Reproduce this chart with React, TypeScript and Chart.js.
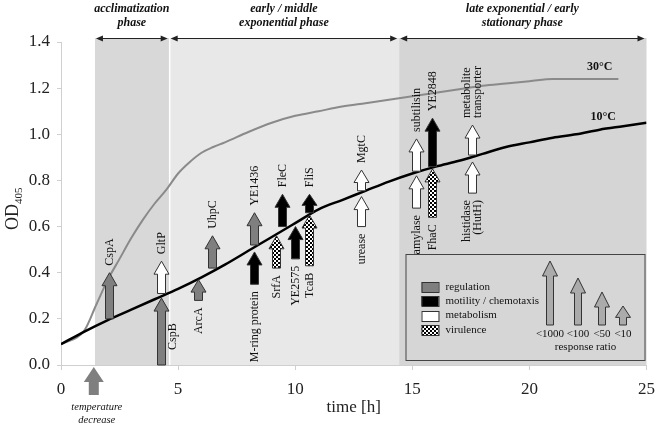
import React, { useEffect, useRef } from 'react';
import { Chart, registerables } from 'chart.js';

Chart.register(...registerables);

const SERIF = '"Liberation Serif", "Times New Roman", serif';

// ---- data ----
const time10 = [0, 1, 2, 3, 4, 5, 6, 7, 8, 9, 10, 11, 12, 13, 14, 15, 16, 17, 18, 19, 20, 21, 22, 23, 24, 25];
const od10 = [0.09, 0.145, 0.195, 0.24, 0.285, 0.33, 0.38, 0.435, 0.495, 0.555, 0.615, 0.675, 0.715, 0.755, 0.795, 0.83, 0.86, 0.885, 0.915, 0.945, 0.965, 0.985, 1.0, 1.02, 1.035, 1.05];

const time30 = [0, 1, 1.5, 2, 2.5, 3, 3.5, 4, 4.5, 5, 5.5, 6, 6.5, 7, 8, 9, 10, 11, 12, 13, 14, 15, 16, 17, 18, 19, 20, 21, 22, 23, 23.8];
const od30 = [0.09, 0.15, 0.26, 0.37, 0.46, 0.55, 0.63, 0.7, 0.76, 0.83, 0.88, 0.92, 0.945, 0.965, 1.01, 1.05, 1.08, 1.1, 1.12, 1.135, 1.15, 1.165, 1.18, 1.195, 1.21, 1.22, 1.23, 1.24, 1.24, 1.24, 1.24];

const seriesNames = ['10°C', '30°C'];

const phaseNames = [
  ['acclimatization', 'phase'],
  ['early / middle', 'exponential phase'],
  ['late exponential / early', 'stationary phase'],
];
const phaseStart = [1.45, 4.64, 14.44];
const phaseEnd = [4.64, 14.44, 25];

const arrowLabels = ['CspA', 'GltP', 'CspB', 'ArcA', 'UhpC', 'YE1436', 'M-ring protein', 'FleC', 'SrfA', 'YE2575', 'FliS', 'TcaB', 'MgtC', 'urease', 'subtilisin', 'amylase', 'YE2848', 'FhaC', 'metabolite\ntransporter', 'histidase\n(HutH)'];
const arrowTimes = [2.04, 4.26, 4.26, 5.83, 6.43, 8.22, 8.22, 9.45, 9.2, 10.0, 10.6, 10.6, 12.82, 12.82, 15.16, 15.16, 15.84, 15.84, 17.55, 17.55];
const arrowFrom = [0.2, 0.31, 0.0, 0.28, 0.42, 0.52, 0.35, 0.6, 0.42, 0.46, 0.66, 0.43, 0.755, 0.6, 0.84, 0.68, 0.86, 0.64, 0.91, 0.745];
const arrowTo = [0.4, 0.45, 0.29, 0.37, 0.56, 0.66, 0.49, 0.74, 0.56, 0.6, 0.74, 0.65, 0.845, 0.73, 0.98, 0.82, 1.07, 0.85, 1.04, 0.88];
const arrowCategory = ['reg', 'met', 'reg', 'reg', 'reg', 'reg', 'mot', 'mot', 'vir', 'mot', 'mot', 'vir', 'met', 'met', 'met', 'met', 'mot', 'vir', 'met', 'met'];
const arrowLabelSide = ['above', 'above', 'right', 'below', 'above', 'above', 'below', 'above', 'below', 'below', 'above', 'below', 'above', 'below', 'above', 'below', 'above', 'below', 'above', 'below'];

const legendCategories = ['reg', 'mot', 'met', 'vir'];
const legendNames = ['regulation', 'motility / chemotaxis', 'metabolism', 'virulence'];
const ratioLabels = ['<1000', '<100', '<50', '<10'];
const ratioTitle = 'response ratio';
const temperatureDropTime = 1.4;
const temperatureDropText = ['temperature', 'decrease'];

const xTitle = 'time [h]';
const yTitleMain = 'OD';
const yTitleSub = '405';

// ---- styles ----
const phaseShade = ['#d8d8d8', '#e8e8e8', '#d5d5d5'];
const GRAY = '#7f7f7f';
const OUTLINE = '#333';
const TEXT = '#111';

function arrowPath(ctx: CanvasRenderingContext2D, x: number, yb: number, yt: number, shaftW: number, headW: number, headLen: number) {
  const hl = Math.min(headLen, (yb - yt) * 0.6);
  ctx.beginPath();
  ctx.moveTo(x - shaftW / 2, yb);
  ctx.lineTo(x - shaftW / 2, yt + hl);
  ctx.lineTo(x - headW / 2, yt + hl);
  ctx.lineTo(x, yt);
  ctx.lineTo(x + headW / 2, yt + hl);
  ctx.lineTo(x + shaftW / 2, yt + hl);
  ctx.lineTo(x + shaftW / 2, yb);
  ctx.closePath();
}

export default function App() {
  const ref = useRef<HTMLCanvasElement>(null);

  useEffect(() => {
    document.body.style.margin = '0';
    const canvas = ref.current!;
    const c0 = canvas.getContext('2d')!;
    const pc = document.createElement('canvas');
    pc.width = 4;
    pc.height = 4;
    const pctx = pc.getContext('2d')!;
    pctx.fillStyle = '#fff';
    pctx.fillRect(0, 0, 4, 4);
    pctx.fillStyle = '#000';
    pctx.fillRect(0, 0, 2, 2);
    pctx.fillRect(2, 2, 2, 2);
    const checker = c0.createPattern(pc, 'repeat');

    const fillFor = (cat: string): any => {
      if (cat === 'reg') return GRAY;
      if (cat === 'mot') return '#000';
      if (cat === 'met') return '#fff';
      return checker;
    };

    const decor = {
      id: 'decor',
      beforeDraw(chart: any) {
        const ctx: CanvasRenderingContext2D = chart.ctx;
        const ca = chart.chartArea;
        const xs = chart.scales.x;
        ctx.save();
        for (let i = 0; i < phaseStart.length; i++) {
          const x1 = xs.getPixelForValue(phaseStart[i]);
          const x2 = xs.getPixelForValue(phaseEnd[i]);
          ctx.fillStyle = phaseShade[i];
          ctx.fillRect(x1, ca.top - 4, x2 - x1, ca.bottom - ca.top + 4);
        }
        // white separator between acclimatization and early phase
        const xb = xs.getPixelForValue(phaseEnd[0]);
        ctx.fillStyle = '#fff';
        ctx.fillRect(xb - 0.75, ca.top - 4, 1.5, ca.bottom - ca.top + 4);
        ctx.restore();
      },
      afterDatasetsDraw(chart: any) {
        const ctx: CanvasRenderingContext2D = chart.ctx;
        const ca = chart.chartArea;
        const xs = chart.scales.x;
        const ys = chart.scales.y;
        ctx.save();

        // gene arrows
        for (let i = 0; i < arrowLabels.length; i++) {
          const x = Math.round(xs.getPixelForValue(arrowTimes[i])) + 0.5;
          const yb = ys.getPixelForValue(arrowFrom[i]);
          const yt = ys.getPixelForValue(arrowTo[i]);
          arrowPath(ctx, x, yb, yt, 8, 15, 13);
          ctx.fillStyle = fillFor(arrowCategory[i]);
          ctx.fill();
          ctx.lineWidth = 1;
          ctx.strokeStyle = OUTLINE;
          ctx.stroke();

          const lines = arrowLabels[i].split('\n');
          ctx.font = `12px ${SERIF}`;
          ctx.fillStyle = TEXT;
          ctx.textBaseline = 'middle';
          ctx.save();
          const side = arrowLabelSide[i];
          if (side === 'above') {
            ctx.translate(x, yt - 7);
            ctx.rotate(-Math.PI / 2);
            ctx.textAlign = 'left';
          } else if (side === 'below') {
            ctx.translate(x, yb + 7);
            ctx.rotate(-Math.PI / 2);
            ctx.textAlign = 'right';
          } else {
            ctx.translate(x + 11, yb - 15);
            ctx.rotate(-Math.PI / 2);
            ctx.textAlign = 'left';
          }
          const n = lines.length;
          lines.forEach((ln, j) => {
            ctx.fillText(ln, 0, (j - (n - 1) / 2) * 11);
          });
          ctx.restore();
        }

        // series labels
        ctx.font = `bold 12px ${SERIF}`;
        ctx.fillStyle = TEXT;
        ctx.textAlign = 'center';
        ctx.textBaseline = 'middle';
        ctx.fillText(seriesNames[1], xs.getPixelForValue(23.0), ys.getPixelForValue(1.24) - 12);
        ctx.fillText(seriesNames[0], xs.getPixelForValue(23.15), ys.getPixelForValue(1.025) - 12);

        // phase arrows and labels
        for (let i = 0; i < phaseStart.length; i++) {
          const x1 = xs.getPixelForValue(phaseStart[i]) + 1;
          const x2 = xs.getPixelForValue(phaseEnd[i]) - 2;
          const y = ca.top - 3.5;
          ctx.strokeStyle = '#222';
          ctx.fillStyle = '#222';
          ctx.lineWidth = 1;
          ctx.beginPath();
          ctx.moveTo(x1 + 4, y);
          ctx.lineTo(x2 - 4, y);
          ctx.stroke();
          ctx.beginPath();
          ctx.moveTo(x1, y);
          ctx.lineTo(x1 + 7, y - 3);
          ctx.lineTo(x1 + 7, y + 3);
          ctx.closePath();
          ctx.fill();
          ctx.beginPath();
          ctx.moveTo(x2, y);
          ctx.lineTo(x2 - 7, y - 3);
          ctx.lineTo(x2 - 7, y + 3);
          ctx.closePath();
          ctx.fill();
          const cx = (x1 + x2) / 2;
          ctx.font = `italic bold 12px ${SERIF}`;
          ctx.fillStyle = TEXT;
          ctx.textAlign = 'center';
          ctx.textBaseline = 'middle';
          ctx.fillText(phaseNames[i][0], cx, 9);
          ctx.fillText(phaseNames[i][1], cx, 23);
        }

        // legend box
        const bl = ca.right - 241;
        const bt = ca.bottom - 111;
        const bw = 239;
        const bh = 106;
        ctx.fillStyle = '#d6d6d6';
        ctx.fillRect(bl, bt, bw, bh);
        ctx.strokeStyle = '#444';
        ctx.lineWidth = 1;
        ctx.strokeRect(bl + 0.5, bt + 0.5, bw, bh);
        ctx.font = `11px ${SERIF}`;
        ctx.textAlign = 'left';
        ctx.textBaseline = 'middle';
        for (let i = 0; i < legendCategories.length; i++) {
          const cy = bt + 33 + i * 14.3;
          ctx.fillStyle = fillFor(legendCategories[i]);
          ctx.fillRect(bl + 16, Math.round(cy - 5), 17, 10);
          ctx.strokeStyle = OUTLINE;
          ctx.strokeRect(bl + 16.5, Math.round(cy - 5) + 0.5, 17, 10);
          ctx.fillStyle = TEXT;
          ctx.fillText(legendNames[i], bl + 40, cy);
        }
        const rx = [144, 172, 196, 217];
        const rh = [64, 47, 33, 19];
        const base = bt + 71;
        for (let i = 0; i < ratioLabels.length; i++) {
          const x = bl + rx[i] + 0.5;
          arrowPath(ctx, x, base, base - rh[i], 7, 15, 15);
          ctx.fillStyle = '#ababab';
          ctx.fill();
          ctx.strokeStyle = OUTLINE;
          ctx.stroke();
          ctx.fillStyle = TEXT;
          ctx.textAlign = 'center';
          ctx.fillText(ratioLabels[i], x, bt + 80);
        }
        ctx.fillText(ratioTitle, bl + 180, bt + 93);

        // temperature decrease
        const tx = xs.getPixelForValue(temperatureDropTime);
        arrowPath(ctx, tx, ca.bottom + 30, ca.bottom + 2, 10, 20, 15);
        ctx.fillStyle = GRAY;
        ctx.fill();
        ctx.font = `italic 10.5px ${SERIF}`;
        ctx.fillStyle = TEXT;
        ctx.textAlign = 'center';
        ctx.fillText(temperatureDropText[0], tx + 3, ca.bottom + 42);
        ctx.fillText(temperatureDropText[1], tx + 3, ca.bottom + 55);

        // axis titles
        ctx.font = `17px ${SERIF}`;
        ctx.fillStyle = '#222';
        ctx.textAlign = 'center';
        ctx.fillText(xTitle, (ca.left + ca.right) / 2, ca.bottom + 43);

        ctx.save();
        ctx.translate(12, 230);
        ctx.rotate(-Math.PI / 2);
        ctx.textAlign = 'left';
        ctx.textBaseline = 'alphabetic';
        ctx.font = `18px ${SERIF}`;
        ctx.fillText(yTitleMain, 0, 6);
        const w = ctx.measureText(yTitleMain).width;
        ctx.font = `11px ${SERIF}`;
        ctx.fillText(yTitleSub, w, 10);
        ctx.restore();

        ctx.restore();
      },
    };

    const chart = new Chart(canvas, {
      type: 'line',
      data: {
        datasets: [
          {
            label: seriesNames[0],
            data: time10.map((t, i) => ({ x: t, y: od10[i] })),
            borderColor: '#000',
            borderWidth: 2.5,
            pointRadius: 0,
            cubicInterpolationMode: 'monotone',
            fill: false,
          },
          {
            label: seriesNames[1],
            data: time30.map((t, i) => ({ x: t, y: od30[i] })),
            borderColor: '#8a8a8a',
            borderWidth: 2,
            pointRadius: 0,
            cubicInterpolationMode: 'monotone',
            fill: false,
          },
        ],
      },
      options: {
        animation: false,
        responsive: false,
        devicePixelRatio: 1,
        layout: { padding: { top: 42, right: 16, left: 0, bottom: 0 } },
        plugins: { legend: { display: false }, tooltip: { enabled: false } },
        events: [],
        scales: {
          x: {
            type: 'linear',
            min: 0,
            max: 25,
            afterFit: (s: any) => { s.height = 60; },
            ticks: { stepSize: 5, color: '#222', font: { family: SERIF, size: 17 }, padding: 9, maxRotation: 0 },
            grid: { drawOnChartArea: false, drawTicks: true, tickLength: 5, color: '#cfcfcf' },
            border: { display: true, color: '#cfcfcf' },
          },
          y: {
            min: 0,
            max: 1.4,
            afterFit: (s: any) => { s.width = 61; },
            ticks: { stepSize: 0.2, color: '#222', font: { family: SERIF, size: 17 }, padding: 7, callback: (v: any) => Number(v).toFixed(1) },
            grid: { drawOnChartArea: false, drawTicks: true, tickLength: 4, color: '#cfcfcf' },
            border: { display: true, color: '#cfcfcf' },
          },
        },
      } as any,
      plugins: [decor],
    });
    return () => chart.destroy();
  }, []);

  return (
    <div style={{ width: 664, height: 425 }}>
      <canvas ref={ref} width={664} height={425} style={{ display: 'block' }} />
    </div>
  );
}
